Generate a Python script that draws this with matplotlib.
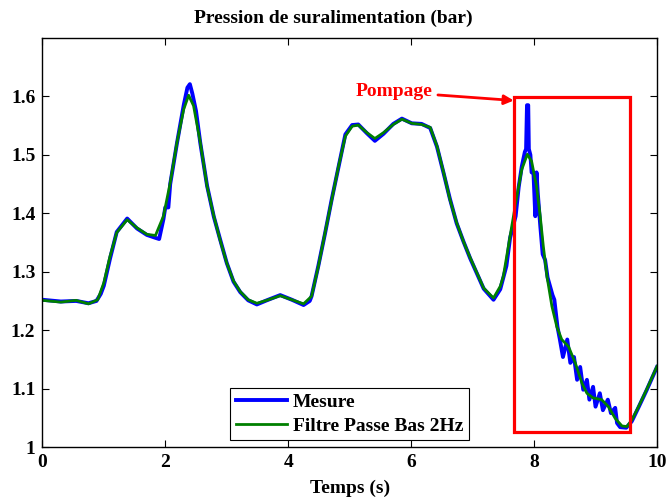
import numpy as np
import matplotlib
matplotlib.use('Agg')
import matplotlib.pyplot as plt
from matplotlib.patches import Rectangle
from matplotlib.ticker import FormatStrFormatter

# filtered signal
t_filt = [0.0, 0.3, 0.55, 0.75, 0.9, 1.0, 1.1, 1.21, 1.38, 1.54, 1.7, 1.84, 1.97,
          2.08, 2.19, 2.3, 2.38, 2.46, 2.57, 2.68, 2.79, 2.89, 3.0, 3.11, 3.22,
          3.35, 3.49, 3.65, 3.87, 4.06, 4.25, 4.38, 4.49, 4.6, 4.71, 4.82, 4.93,
          5.04, 5.14, 5.28, 5.41, 5.55, 5.71, 5.85, 6.01, 6.17, 6.31, 6.42, 6.53,
          6.63, 6.74, 6.85, 6.96, 7.07, 7.18, 7.34, 7.45, 7.5, 7.61, 7.72, 7.8,
          7.89, 7.96, 8.04, 8.1, 8.15, 8.21, 8.29, 8.37, 8.45, 8.56, 8.67, 8.78,
          8.86, 8.96, 9.1, 9.21, 9.32, 9.43, 9.51, 9.59, 9.7, 9.83, 10.0]
p_filt = [1.251, 1.248, 1.251, 1.245, 1.252, 1.281, 1.326, 1.367, 1.389, 1.375,
          1.364, 1.362, 1.395, 1.452, 1.521, 1.578, 1.602, 1.584, 1.521, 1.446,
          1.395, 1.355, 1.315, 1.284, 1.266, 1.252, 1.246, 1.251, 1.259, 1.252,
          1.245, 1.258, 1.309, 1.367, 1.424, 1.481, 1.532, 1.549, 1.551, 1.538,
          1.528, 1.538, 1.552, 1.561, 1.554, 1.552, 1.547, 1.515, 1.469, 1.424,
          1.384, 1.352, 1.324, 1.298, 1.272, 1.255, 1.275, 1.292, 1.361, 1.429,
          1.475, 1.501, 1.489, 1.446, 1.395, 1.344, 1.292, 1.241, 1.206, 1.184,
          1.172, 1.144, 1.109, 1.092, 1.084, 1.081, 1.069, 1.049, 1.036, 1.035,
          1.046, 1.069, 1.098, 1.138]

# measured signal
t_mes = [0.0, 0.3, 0.55, 0.75, 0.88, 0.95, 1.0, 1.1, 1.21, 1.38, 1.54, 1.7, 1.84,
         1.9, 1.97, 2.0, 2.05, 2.08, 2.19, 2.3, 2.36, 2.4, 2.44, 2.5, 2.57, 2.68,
         2.79, 2.89, 3.0, 3.11, 3.22, 3.35, 3.49, 3.65, 3.87, 4.06, 4.25, 4.35,
         4.38, 4.49, 4.6, 4.71, 4.82, 4.93, 5.04, 5.14, 5.28, 5.41, 5.55, 5.71,
         5.85, 6.01, 6.17, 6.31, 6.42, 6.53, 6.63, 6.74, 6.85, 6.96, 7.07, 7.18,
         7.34, 7.45, 7.5, 7.55, 7.61, 7.7, 7.75, 7.8, 7.85, 7.87, 7.885, 7.905,
         7.915, 7.94, 7.96, 7.99, 8.02, 8.04, 8.06, 8.1, 8.14, 8.18, 8.22, 8.26,
         8.3, 8.33, 8.38, 8.42, 8.47, 8.54, 8.59, 8.65, 8.7, 8.75, 8.8, 8.86, 8.9,
         8.96, 9.0, 9.07, 9.12, 9.2, 9.25, 9.32, 9.35, 9.4, 9.5, 9.59, 9.7, 9.83,
         10.0]
p_mes = [1.252, 1.249, 1.25, 1.246, 1.25, 1.262, 1.276, 1.322, 1.368, 1.391,
         1.374, 1.363, 1.358, 1.356, 1.39, 1.41, 1.41, 1.45, 1.52, 1.585, 1.615,
         1.621, 1.605, 1.575, 1.52, 1.447, 1.394, 1.356, 1.315, 1.283, 1.265,
         1.251, 1.244, 1.251, 1.26, 1.252, 1.243, 1.25, 1.258, 1.31, 1.366,
         1.425, 1.48, 1.535, 1.551, 1.552, 1.537, 1.524, 1.536, 1.553, 1.562,
         1.554, 1.553, 1.546, 1.514, 1.468, 1.425, 1.383, 1.352, 1.323, 1.297,
         1.271, 1.252, 1.27, 1.29, 1.31, 1.358, 1.395, 1.445, 1.48, 1.505, 1.51,
         1.585, 1.585, 1.51, 1.5, 1.47, 1.47, 1.395, 1.47, 1.435, 1.38, 1.33,
         1.32, 1.29, 1.275, 1.26, 1.252, 1.206, 1.184, 1.154, 1.184, 1.144,
         1.154, 1.115, 1.137, 1.098, 1.115, 1.081, 1.103, 1.069, 1.092, 1.063,
         1.081, 1.058, 1.067, 1.041, 1.034, 1.033, 1.044, 1.068, 1.097, 1.137]

box_t = (7.68, 9.56)
box_p = (1.026, 1.599)

plt.rcParams['font.family'] = ['Liberation Serif', 'DejaVu Serif']
plt.rcParams['font.weight'] = 'bold'
plt.rcParams['font.size'] = 14

fig = plt.figure(figsize=(6.67, 4.98), dpi=100)
ax = fig.add_axes([0.0635, 0.1024, 0.9215, 0.8213])

ax.plot(t_mes, p_mes, color='#0000ff', lw=2.8, label='Mesure')
ax.plot(t_filt, p_filt, color='#008000', lw=2.0, label='Filtre Passe Bas 2Hz')

ax.add_patch(Rectangle((box_t[0], box_p[0]), box_t[1] - box_t[0], box_p[1] - box_p[0],
                       fill=False, edgecolor='red', lw=2.3, zorder=5))
ax.annotate('Pompage', xy=(box_t[0] - 0.01, 1.593), xytext=(5.72, 1.608),
            color='red', fontweight='bold', fontsize=14, ha='center', va='center',
            arrowprops=dict(arrowstyle='-|>', color='red', lw=2, mutation_scale=14,
                            shrinkA=2, shrinkB=0))

ax.set_xlim(0, 10)
ax.set_ylim(1, 1.7)
ax.set_xticks([0, 2, 4, 6, 8, 10])
ax.set_yticks([1, 1.1, 1.2, 1.3, 1.4, 1.5, 1.6])
ax.yaxis.set_major_formatter(FormatStrFormatter('%g'))
ax.tick_params(direction='in', top=True, right=True, length=5, width=0.8, labelsize=14, pad=5)
for s in ax.spines.values():
    s.set_linewidth(1.0)

fig.text(0.5, 1 - 18 / 498, 'Pression de suralimentation (bar)', fontsize=14,
         fontweight='bold', ha='center', va='center')
ax.set_xlabel('Temps (s)', fontsize=14, fontweight='bold', labelpad=6)

leg = ax.legend(loc='lower left', bbox_to_anchor=(0.306, 0.016), fancybox=False,
                edgecolor='black', framealpha=1, fontsize=14, handlelength=2.6,
                borderpad=0.3, labelspacing=0.3, handletextpad=0.3, borderaxespad=0)
leg.get_frame().set_linewidth(0.8)

fig.savefig('out.png', dpi=100)
